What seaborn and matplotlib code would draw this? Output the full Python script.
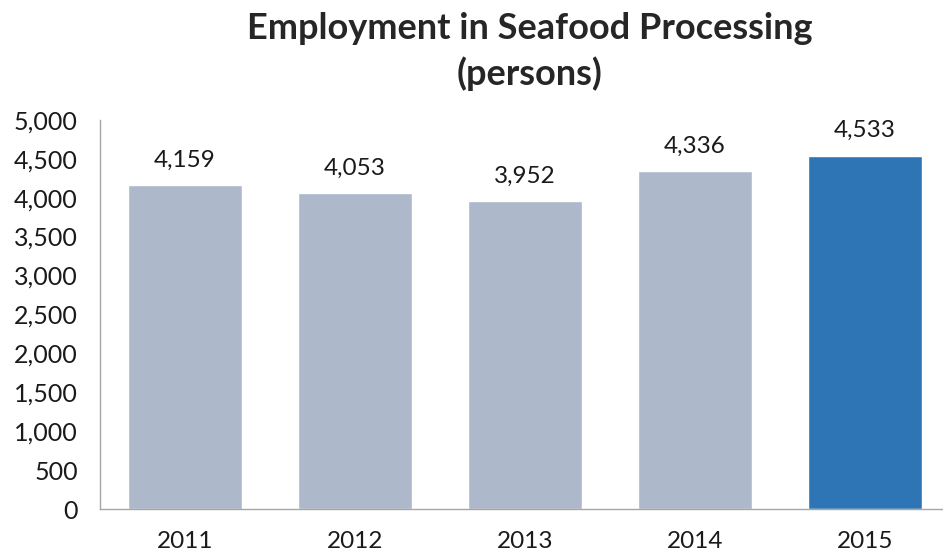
import numpy as np
import pandas as pd
import matplotlib
matplotlib.use("Agg")
import matplotlib.pyplot as plt
from matplotlib.ticker import FuncFormatter, FixedLocator
import seaborn as sns

# Data
years = ["2011", "2012", "2013", "2014", "2015"]
employment = [4159, 4053, 3952, 4336, 4533]
bar_colors = ["#ADB9CA", "#ADB9CA", "#ADB9CA", "#ADB9CA", "#2E75B6"]

df = pd.DataFrame({"year": years, "persons": employment})

sns.set_style("white")
plt.rcParams["font.family"] = ["Lato", "DejaVu Sans"]

fig = plt.figure(figsize=(9.43, 5.57), dpi=100)
ax = fig.add_axes([0.106, 0.086, 0.901, 0.699])

sns.barplot(data=df, x="year", y="persons", hue="year", palette=bar_colors,
            width=0.67, legend=False, ax=ax, saturation=1)

ax.set_ylim(0, 5000)
ax.set_xlim(-0.5, 4.5)
ax.set_yticks(np.arange(0, 5001, 500))
ax.yaxis.set_major_formatter(FuncFormatter(lambda v, p: f"{int(v):,}"))

# value labels
for i, v in enumerate(employment):
    ax.text(i, v + 190, f"{v:,}", ha="center", va="bottom", fontsize=17.5, color="#1a1a1a")

# axis styling
for side in ["top", "right"]:
    ax.spines[side].set_visible(False)
for side in ["left", "bottom"]:
    ax.spines[side].set_color("#A6A6A6")
    ax.spines[side].set_linewidth(1)

ax.tick_params(axis="y", length=6, color="#A6A6A6", labelsize=18, labelcolor="#1a1a1a", pad=10)
ax.tick_params(axis="x", which="major", length=0, labelsize=17.5, labelcolor="#1a1a1a", pad=16)
ax.xaxis.set_minor_locator(FixedLocator(np.arange(-0.5, 5, 1)))
ax.tick_params(axis="x", which="minor", length=6, color="#A6A6A6", direction="out")

ax.set_xlabel("")
ax.set_ylabel("")

fig.suptitle("Employment in Seafood Processing\n(persons)", fontsize=26, fontweight="bold",
             x=0.562, y=0.978, va="top", linespacing=1.38)

plt.savefig("out.png", dpi=100)
